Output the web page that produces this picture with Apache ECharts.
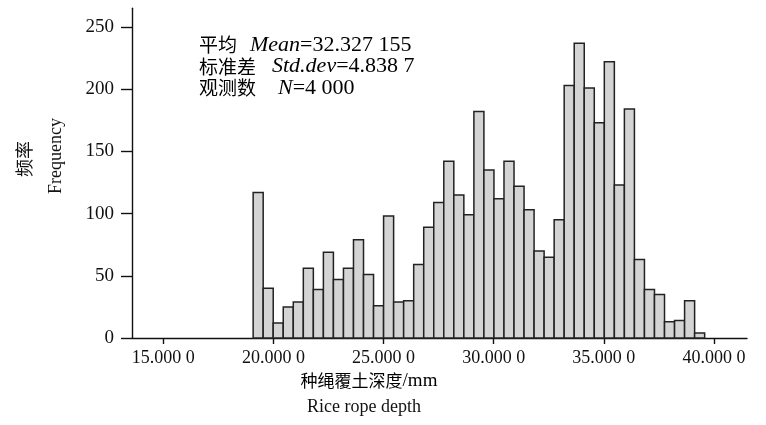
<!DOCTYPE html>
<html>
<head>
<meta charset="utf-8">
<script src="https://cdn.jsdelivr.net/npm/echarts@6/dist/echarts.min.js"></script>
<style>
  html, body { margin: 0; padding: 0; background: #fff; }
  #chart { width: 766px; height: 425px; }
</style>
</head>
<body>
<div id="chart"></div>
<script>
// Histogram of rice rope covering depth (45 equal-width bins)
const binStart = 19.08;     // left edge of first bin (mm)
const binWidth = 0.4555;    // bin width (mm)
const counts = [
  117, 40, 12, 25, 29, 56, 39, 69, 47, 56,
  79, 51, 26, 98, 29, 30, 59, 89, 109, 142,
  115, 99, 182, 135, 112, 142, 122, 103, 70, 65,
  95, 203, 237, 201, 173, 222, 123, 184, 63, 39,
  35, 13, 14, 30, 4
];
const xTickValues = [15, 20, 25, 30, 35, 40];
const xTickLabels = ['15.000 0', '20.000 0', '25.000 0', '30.000 0', '35.000 0', '40.000 0'];
const yTickValues = [0, 50, 100, 150, 200, 250];
const statsLines = [
  { cn: '平均', it: 'Mean', val: '=32.327 155' },
  { cn: '标准差', it: 'Std.dev', val: '=4.838 7' },
  { cn: '观测数', it: 'N', val: '=4 000' }
];
const xNameCn = '种绳覆土深度';
const xNameUnit = '/mm';
const xNameEn = 'Rice rope depth';
const yNameCn = '频率';
const yNameEn = 'Frequency';

const serif = '"Liberation Serif", "Times New Roman", "Noto Sans CJK SC", serif';
const cjk = '"Noto Sans CJK SC", sans-serif';

const barData = counts.map((c, i) => [binStart + i * binWidth, binStart + (i + 1) * binWidth, c]);

const chart = echarts.init(document.getElementById('chart'), null, { renderer: 'canvas' });

// gap between the Chinese caption and the Latin part of each stats line
const statsGaps = [13, 16, 22];

function statsRich(gap) {
  return {
    cn: { fontFamily: cjk, fontSize: 19, color: '#111', lineHeight: 21, padding: [0, gap, 0, 0] },
    it: { fontFamily: serif, fontStyle: 'italic', fontSize: 22, color: '#111', lineHeight: 21 },
    n:  { fontFamily: serif, fontSize: 22, color: '#111', lineHeight: 21 }
  };
}

chart.setOption({
  animation: false,
  backgroundColor: '#fff',
  grid: { left: 132, right: 19, top: 8.3, bottom: 87, containLabel: false },
  xAxis: {
    type: 'value',
    min: 13.58,
    max: 41.5,
    axisLine: { show: true, lineStyle: { color: '#111', width: 1.4 } },
    axisTick: { show: true, length: 6, customValues: xTickValues, lineStyle: { color: '#111', width: 1.4 } },
    axisLabel: {
      customValues: xTickValues,
      margin: 11,
      fontFamily: serif,
      fontSize: 18,
      color: '#111',
      formatter: v => {
        const i = xTickValues.indexOf(v);
        return i >= 0 ? xTickLabels[i] : '';
      }
    },
    splitLine: { show: false }
  },
  yAxis: {
    type: 'value',
    min: 0,
    max: 265,
    axisLine: { show: true, lineStyle: { color: '#111', width: 1.4 } },
    axisTick: { show: true, length: 11, customValues: yTickValues, lineStyle: { color: '#111', width: 1.4 } },
    axisLabel: {
      customValues: yTickValues,
      margin: 18,
      fontFamily: serif,
      fontSize: 19,
      color: '#111'
    },
    splitLine: { show: false }
  },
  series: [{
    type: 'custom',
    data: barData,
    encode: { x: [0, 1], y: 2 },
    renderItem: (params, api) => {
      const p0 = api.coord([api.value(0), api.value(2)]);
      const p1 = api.coord([api.value(1), 0]);
      return {
        type: 'rect',
        shape: { x: p0[0], y: p0[1], width: p1[0] - p0[0], height: p1[1] - p0[1] },
        style: { fill: '#d4d4d4', stroke: '#222', lineWidth: 1.5 }
      };
    },
    z: 1
  }],
  graphic: [
    ...statsLines.map((l, i) => ({
      type: 'text',
      left: 199,
      top: 34 + i * 21.5,
      style: {
        text: `{cn|${l.cn}}{it|${l.it}}{n|${l.val}}`,
        rich: statsRich(statsGaps[i])
      }
    })),
    {
      type: 'text',
      x: 369, y: 381,
      style: {
        text: `{c|${xNameCn}}{u|${xNameUnit}}`,
        align: 'center', verticalAlign: 'middle',
        rich: {
          c: { fontFamily: cjk, fontSize: 17, color: '#111' },
          u: { fontFamily: serif, fontSize: 19, color: '#111' }
        }
      }
    },
    {
      type: 'text',
      x: 364, y: 407,
      style: {
        text: xNameEn, align: 'center', verticalAlign: 'middle',
        fontFamily: serif, fontSize: 18, fill: '#111'
      }
    },
    {
      type: 'text',
      x: 24, y: 159, rotation: Math.PI / 2,
      style: {
        text: yNameCn, align: 'center', verticalAlign: 'middle',
        fontFamily: cjk, fontSize: 18, fill: '#111'
      }
    },
    {
      type: 'text',
      x: 56, y: 156, rotation: Math.PI / 2,
      style: {
        text: yNameEn, align: 'center', verticalAlign: 'middle',
        fontFamily: serif, fontSize: 18, fill: '#111'
      }
    }
  ]
});
</script>
</body>
</html>
